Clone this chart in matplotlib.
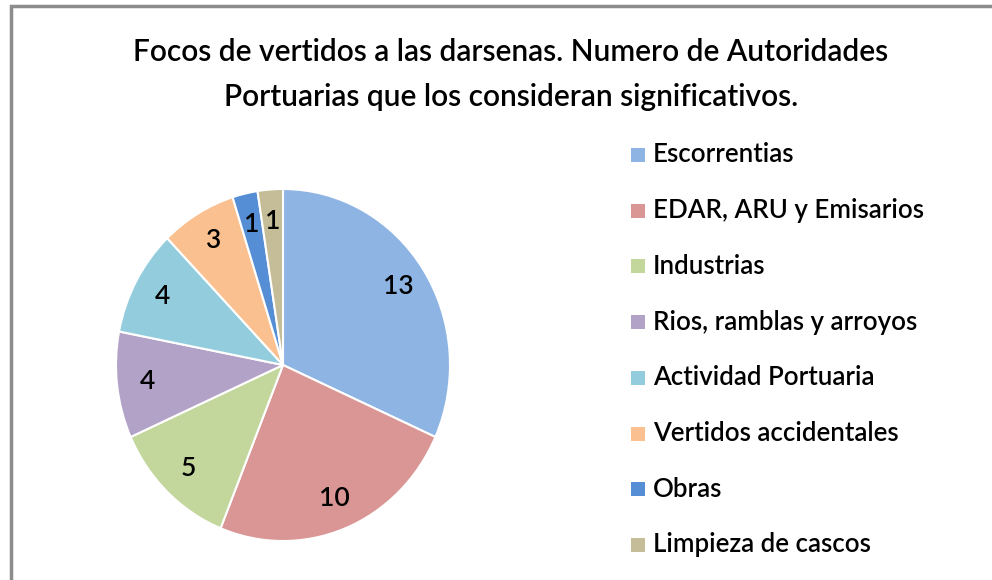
import matplotlib.pyplot as plt
from matplotlib.patches import Rectangle

plt.rcParams['font.family'] = ['Lato', 'DejaVu Sans']
plt.rcParams['font.weight'] = 'semibold'

categories = ['Escorrentias', 'EDAR, ARU y Emisarios', 'Industrias',
              'Rios, ramblas y arroyos', 'Actividad Portuaria',
              'Vertidos accidentales', 'Obras', 'Limpieza de cascos']
counts = [13, 10, 5, 4, 4, 3, 1, 1]
colors = ['#8EB4E3', '#D99694', '#C3D69B', '#B3A2C7',
          '#93CDDD', '#FAC090', '#558ED5', '#C4BD97']

W, H = 992, 580
fig = plt.figure(figsize=(W / 100, H / 100), dpi=100)

# chart frame (only top and left edges are visible)
fig.patches.append(Rectangle((10.5 / W, -0.1), 1.2, 1 - 5.5 / H + 0.1,
                             transform=fig.transFigure, fill=False,
                             edgecolor='#8c8c8c', linewidth=2.5))

fig.text(511 / W, 1 - 52 / H, 'Focos de vertidos a las darsenas. Numero de Autoridades',
         ha='center', va='center', fontsize=21.5)
fig.text(511 / W, 1 - 97 / H, 'Portuarias que los consideran significativos.',
         ha='center', va='center', fontsize=21.5)

# pie area (slightly taller than wide)
cx, cy, rx, ry = 283, 365, 167, 176
ax = fig.add_axes([(cx - rx) / W, 1 - (cy + ry) / H, 2 * rx / W, 2 * ry / H])
total = sum(counts)
ax.pie(counts, colors=colors, startangle=90, counterclock=False,
       autopct=lambda p: f'{round(p * total / 100)}', pctdistance=0.82,
       wedgeprops=dict(edgecolor='white', linewidth=1.5),
       textprops=dict(fontsize=19, color='black'))
ax.set_aspect('auto')
ax.set_xlim(-1, 1)
ax.set_ylim(-1, 1)
ax.axis('off')

# legend
y0, step = 155, 55.7
for i, (name, c) in enumerate(zip(categories, colors)):
    y = y0 + i * step
    fig.patches.append(Rectangle((631 / W, 1 - (y + 7) / H), 14 / W, 14 / H,
                                 transform=fig.transFigure, facecolor=c,
                                 edgecolor='none'))
    fig.text(653 / W, 1 - y / H, name, ha='left', va='center', fontsize=18.6)

fig.savefig('out.png', dpi=100)
